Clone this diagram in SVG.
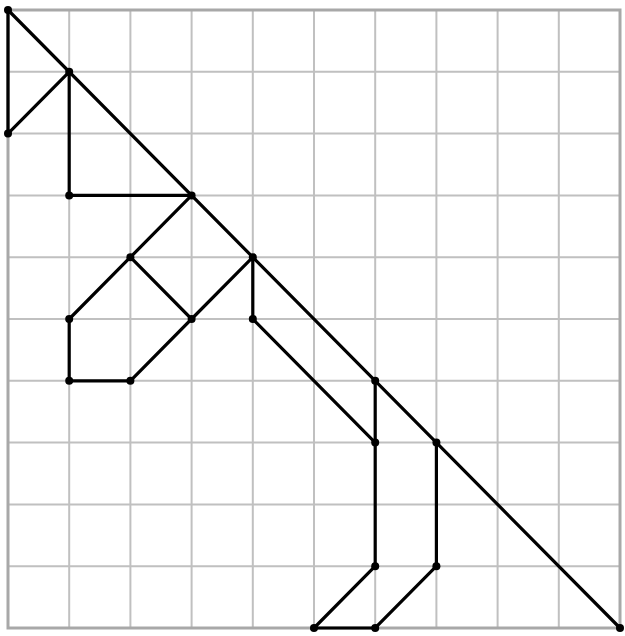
<svg xmlns="http://www.w3.org/2000/svg" width="625" height="636" viewBox="0 0 625 636">
<style>
.g{stroke:#c0c0c0;stroke-width:2;fill:none}
.b{stroke:#a8a8a8;stroke-width:3;fill:none}
.e{stroke:#000;stroke-width:3.2;fill:none;stroke-linecap:round}
.d{fill:#000}
</style>
<rect width="625" height="636" fill="#fff"/>
<g id="grid">
<path class="g" d="M69.2 10V628M130.4 10V628M191.6 10V628M252.8 10V628M314 10V628M375.2 10V628M436.4 10V628M497.6 10V628M558.8 10V628"/>
<path class="g" d="M8 71.8H620M8 133.6H620M8 195.4H620M8 257.2H620M8 319H620M8 380.8H620M8 442.6H620M8 504.4H620M8 566.2H620"/>
<rect class="b" x="8" y="10" width="612" height="618"/>
</g>
<g id="connectors">
<path class="e" d="M8 10L620 628"/>
<path class="e" d="M8 10V133.6L69.2 71.8V195.4H191.6L130.4 257.2L69.2 319V380.8H130.4L191.6 319L130.4 257.2"/>
<path class="e" d="M191.6 319L252.8 257.2V319L375.2 442.6V566.2L314 628H375.2L436.4 566.2V442.6"/>
<path class="e" d="M375.2 380.8V442.6"/>
</g>
<g id="nodes">
<circle id="n00" class="d" cx="8" cy="10" r="4"/>
<circle id="n02" class="d" cx="8" cy="133.6" r="4"/>
<circle id="n11" class="d" cx="69.2" cy="71.8" r="4"/>
<circle id="n13" class="d" cx="69.2" cy="195.4" r="4"/>
<circle id="n33" class="d" cx="191.6" cy="195.4" r="4"/>
<circle id="n24" class="d" cx="130.4" cy="257.2" r="4"/>
<circle id="n15" class="d" cx="69.2" cy="319" r="4"/>
<circle id="n16" class="d" cx="69.2" cy="380.8" r="4"/>
<circle id="n26" class="d" cx="130.4" cy="380.8" r="4"/>
<circle id="n35" class="d" cx="191.6" cy="319" r="4"/>
<circle id="n44" class="d" cx="252.8" cy="257.2" r="4"/>
<circle id="n45" class="d" cx="252.8" cy="319" r="4"/>
<circle id="n66" class="d" cx="375.2" cy="380.8" r="4"/>
<circle id="n67" class="d" cx="375.2" cy="442.6" r="4"/>
<circle id="n69" class="d" cx="375.2" cy="566.2" r="4"/>
<circle id="n510" class="d" cx="314" cy="628" r="4"/>
<circle id="n610" class="d" cx="375.2" cy="628" r="4"/>
<circle id="n79" class="d" cx="436.4" cy="566.2" r="4"/>
<circle id="n77" class="d" cx="436.4" cy="442.6" r="4"/>
<circle id="n1010" class="d" cx="620" cy="628" r="4"/>
</g>
</svg>
